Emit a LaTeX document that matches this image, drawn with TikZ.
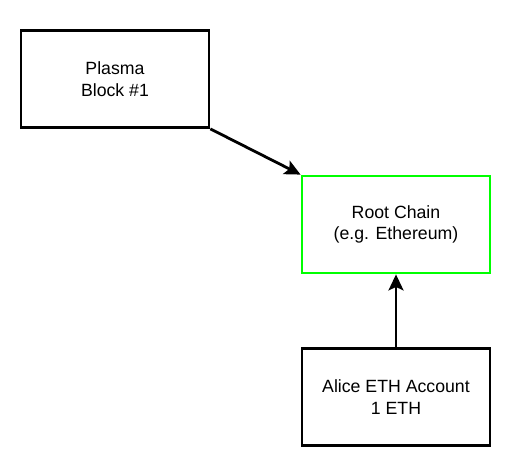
\documentclass[tikz,border=0pt]{standalone}
\usepackage{fontspec}
\setmainfont{Liberation Sans}
\usetikzlibrary{arrows.meta}
\begin{document}
\begin{tikzpicture}[x=1pt,y=-1pt,
  box/.style={draw=black, line width=2.8pt, minimum width=188pt, minimum height=97pt, inner sep=0pt, align=center, font=\fontsize{17.7pt}{21.5pt}\selectfont, fill=white},
  conn/.style={line width=2.8pt, -{Stealth[length=16pt,width=15pt,inset=3.5pt]}}]
\useasboundingbox (0,0) rectangle (508,461);
\node[box] (plasma) at (115,79) {Plasma\\Block \#1};
\node[box, draw={rgb,255:red,0;green,255;blue,0}] (root) at (396,224.5) {Root Chain\\(e.g. Ethereum)};
\node[box] (alice) at (396,397) {Alice ETH Account\\1 ETH};
\draw[conn] (plasma.south east) -- (root.north west);
\draw[conn] (alice.north) -- (root.south);
\end{tikzpicture}
\end{document}
